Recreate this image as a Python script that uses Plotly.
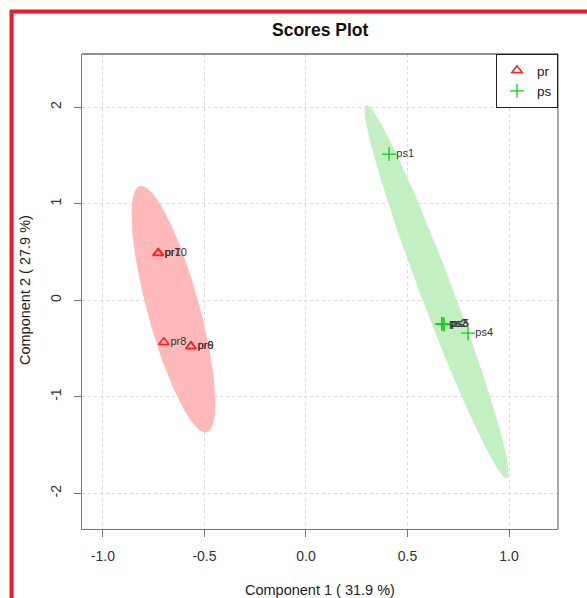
import numpy as np
import plotly.graph_objects as go

# ---- data ----
pr_names = ["pr7", "pr10", "pr8", "pr6", "pr9"]
pr_x = [-0.729, -0.727, -0.700, -0.567, -0.566]
pr_y = [0.487, 0.489, -0.435, -0.477, -0.478]

ps_names = ["ps1", "ps2", "ps3", "ps5", "ps4"]
ps_x = [0.409, 0.668, 0.675, 0.680, 0.798]
ps_y = [1.513, -0.245, -0.250, -0.252, -0.342]

# confidence ellipses: centre, semi-major vector, semi-minor vector (data units)
pr_ell_center = [-0.653, -0.093]
pr_ell_major = [0.165, -1.275]
pr_ell_minor = [0.1236, 0.0709]

ps_ell_center = [0.643, 0.088]
ps_ell_major = [0.347, -1.933]
ps_ell_minor = [0.0739, 0.0587]

x_ticks = [-1.0, -0.5, 0.0, 0.5, 1.0]
y_ticks = [-2, -1, 0, 1, 2]

FONT = "Liberation Sans, Arial, sans-serif"


def ellipse(c, a, b, n=181):
    t = np.linspace(0, 2 * np.pi, n)
    return (c[0] + a[0] * np.cos(t) + b[0] * np.sin(t),
            c[1] + a[1] * np.cos(t) + b[1] * np.sin(t))


fig = go.Figure()

ex, ey = ellipse(pr_ell_center, pr_ell_major, pr_ell_minor)
fig.add_trace(go.Scatter(x=ex, y=ey, mode="lines", fill="toself",
                         fillcolor="#FFB9B9", line=dict(width=0),
                         showlegend=False, hoverinfo="skip"))
ex, ey = ellipse(ps_ell_center, ps_ell_major, ps_ell_minor)
fig.add_trace(go.Scatter(x=ex, y=ey, mode="lines", fill="toself",
                         fillcolor="#C2F0C2", line=dict(width=0),
                         showlegend=False, hoverinfo="skip"))

fig.add_trace(go.Scatter(
    x=pr_x, y=pr_y, mode="markers+text", name="pr",
    text=pr_names, textposition="middle right",
    textfont=dict(family=FONT, size=11, color="#333333"),
    marker=dict(symbol="triangle-up-open", size=9, color="#FF2020",
                line=dict(width=1.5, color="#FF2020"))))
fig.add_trace(go.Scatter(
    x=ps_x, y=ps_y, mode="markers+text", name="ps",
    text=ps_names, textposition="middle right",
    textfont=dict(family=FONT, size=11, color="#333333"),
    marker=dict(symbol="cross-thin", size=10, color="#11CC11",
                line=dict(width=1.3, color="#11CC11"))))

L, R, T, B = 82, 29, 54, 69
W, H = 587, 598
pw, ph = W - L - R, H - T - B


def px(xpix):
    return (xpix - L) / pw


def py(ypix):
    return (H - B - ypix) / ph


fig.update_layout(
    width=W, height=H,
    margin=dict(l=L, r=R, t=T, b=B),
    paper_bgcolor="white", plot_bgcolor="white",
    font=dict(family=FONT, size=13, color="#333333"),
    showlegend=True,
    legend=dict(x=1, y=1, xanchor="right", yanchor="top",
                bordercolor="#222222", borderwidth=1, bgcolor="white",
                font=dict(family=FONT, size=13.5, color="#222222"),
                itemwidth=30, tracegroupgap=0),
    xaxis=dict(range=[-1.103, 1.241], tickvals=x_ticks, ticktext=[f"{v:.1f}" for v in x_ticks],
               showgrid=True, gridcolor="#DADADA", griddash="dot", gridwidth=1,
               zeroline=False, showline=True, linecolor="#777777", linewidth=1,
               ticks="outside", ticklen=7, tickcolor="#777777",
               ticklabelstandoff=7, tickfont=dict(size=14, color="#333333")),
    yaxis=dict(range=[-2.37, 2.55], tickvals=y_ticks, ticktext=[str(v) for v in y_ticks],
               showgrid=True, gridcolor="#DADADA", griddash="dot", gridwidth=1,
               zeroline=False, showline=True, linecolor="#777777", linewidth=1,
               ticks="outside", ticklen=7, tickcolor="#777777", tickangle=-90,
               ticklabelstandoff=7, tickfont=dict(size=14, color="#333333")),
    shapes=[
        dict(type="line", xref="paper", yref="paper", x0=0, x1=1, y0=1, y1=1,
             line=dict(color="#222222", width=1)),
        dict(type="line", xref="paper", yref="paper", x0=1, x1=1, y0=0, y1=1,
             line=dict(color="#555555", width=1)),
        dict(type="rect", xref="paper", yref="paper",
             x0=px(11.5), x1=px(620), y0=py(11.5), y1=py(640),
             line=dict(color="#EE1D25", width=4)),
    ],
    annotations=[
        dict(text="<b>Scores Plot</b>", xref="paper", yref="paper",
             x=0.5, y=py(30), xanchor="center", yanchor="middle", showarrow=False,
             font=dict(family=FONT, size=17.5, color="#111111")),
        dict(text="Component 1 ( 31.9 %)", xref="paper", yref="paper",
             x=0.5, y=py(590), xanchor="center", yanchor="middle", showarrow=False,
             font=dict(family=FONT, size=14.5, color="#222222")),
        dict(text="Component 2 ( 27.9 %)", xref="paper", yref="paper",
             x=px(25), y=py(290), xanchor="center", yanchor="middle", showarrow=False,
             textangle=-90, font=dict(family=FONT, size=14.5, color="#222222")),
    ],
)

fig.write_html("out.html", config={"displayModeBar": False},
               post_script="document.body.style.margin='0px';document.body.style.padding='0px';")
